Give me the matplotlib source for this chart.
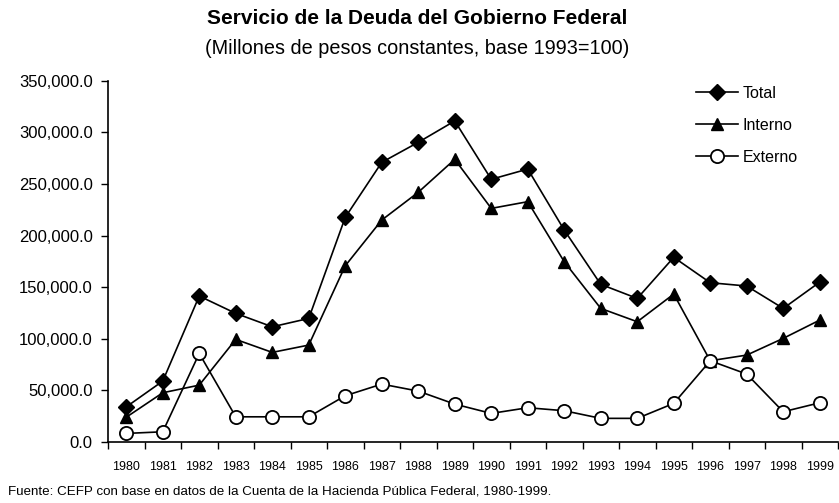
import matplotlib
matplotlib.use("Agg")
import matplotlib.pyplot as plt
from matplotlib.ticker import FuncFormatter, FixedLocator

years = list(range(1980, 2000))
total = [34000, 59000, 141400, 124600, 111600, 119700, 217600, 270900, 290300, 311000,
         254500, 264400, 205300, 152700, 139100, 178900, 154300, 151100, 129400, 154900]
interno = [24000, 47700, 55100, 99400, 86800, 93900, 170700, 215000, 241900, 273800,
           226300, 232800, 174600, 129400, 116500, 143300, 78700, 84200, 100400, 118100]
externo = [8300, 9900, 85800, 24400, 24400, 24400, 44800, 56100, 49300, 36700,
           27700, 33200, 30300, 22900, 22900, 37400, 78700, 65800, 29300, 38000]
series_labels = ["Total", "Interno", "Externo"]
title = "Servicio de la Deuda del Gobierno Federal"
subtitle = "(Millones de pesos constantes, base 1993=100)"
source = "Fuente: CEFP con base en datos de la Cuenta de la Hacienda Pública Federal, 1980-1999."

plt.rcParams['font.family'] = ['Liberation Sans', 'DejaVu Sans']

fig = plt.figure(figsize=(8.39, 5.03), dpi=100)
ax = fig.add_axes([108/839, 1-442/503, (838-108)/839, (442-80.7)/503])

lw = 1.2
ax.plot(years, total, color='black', lw=lw, marker='D', ms=8.5, mfc='black', mec='black', label=series_labels[0], zorder=3)
ax.plot(years, interno, color='black', lw=lw, marker='^', ms=8.5, mfc='black', mec='black', label=series_labels[1], zorder=3)
ax.plot(years, externo, color='black', lw=lw, marker='o', ms=9.5, mfc='white', mec='black', mew=1.3, label=series_labels[2], zorder=4)

ax.set_xlim(years[0]-0.5, years[-1]+0.5)
ax.set_ylim(0, 350000)
ax.set_yticks(range(0, 350001, 50000))
ax.yaxis.set_major_formatter(FuncFormatter(lambda v, p: f"{v:,.1f}"))
ax.tick_params(axis='y', direction='out', length=5, width=1, labelsize=12, pad=6)

ax.xaxis.set_major_locator(FixedLocator([y + 0.5 for y in years[:-1]] + [years[0]-0.5, years[-1]+0.5]))
ax.xaxis.set_major_formatter(FuncFormatter(lambda v, p: ""))
ax.xaxis.set_minor_locator(FixedLocator(years))
ax.set_xticklabels([str(y) for y in years], minor=True)
ax.tick_params(axis='x', which='major', direction='out', length=5, width=1)
ax.tick_params(axis='x', which='minor', length=0, pad=14)
for t in ax.get_xticklabels(minor=True):
    t.set_fontsize(9)

for s in ['top', 'right']:
    ax.spines[s].set_visible(False)
for s in ['left', 'bottom']:
    ax.spines[s].set_linewidth(1.2)

leg = fig.legend(loc='upper left', bbox_to_anchor=(696/839, 1-86/503), frameon=False,
                 fontsize=11.5, handlelength=2.6, handletextpad=0.3, labelspacing=1.05,
                 borderpad=0, borderaxespad=0)

fig.text(417/839, 1-19/503, title, ha='center', va='center', fontsize=15, fontweight='bold')
fig.text(417/839, 1-49/503, subtitle, ha='center', va='center', fontsize=14.3)
fig.text(8/839, 1-492/503, source, ha='left', va='center', fontsize=9.6)

fig.savefig("out.png", dpi=100)
